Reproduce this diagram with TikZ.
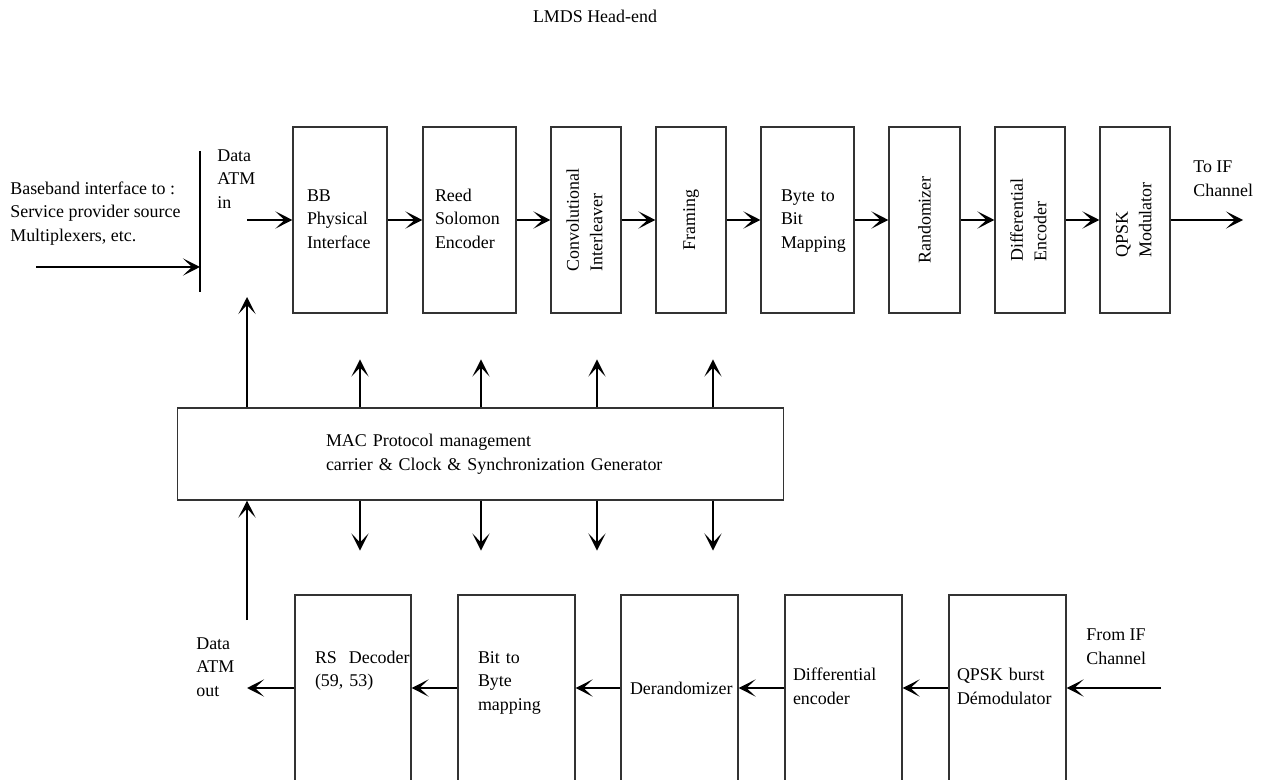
\documentclass[tikz,border=0pt]{standalone}
\usepackage{fontspec}
\setmainfont{Liberation Serif}
\usetikzlibrary{arrows.meta,positioning}
\newcommand{\lns}[1]{\begin{tabular}{@{}l@{}}#1\end{tabular}}

\begin{document}
\begin{tikzpicture}[x=0.02cm, y=-0.02cm, >={Stealth[length=3.4mm,width=3.4mm,inset=1.8mm]},
                    font=\fontsize{10.2}{13.3}\selectfont]
    \tikzstyle{blk} = [draw=black!80, line width=0.6pt, minimum height=3.72cm,
                       inner sep=0pt, align=left]
    \tikzstyle{vblk} = [blk, align=center]
    \tikzstyle{lbl} = [anchor=west, inner sep=0pt]
    \tikzstyle{flow} = [->, line width=1.1pt]

    \useasboundingbox (0,0) rectangle (1265,780);
    \clip (-5,-5) rectangle (1270,779);

    % labels
    \node (title) at (595,16) {LMDS Head-end};
    \node (bbtxt) [lbl] at (10,213) {\lns{Baseband interface to :\\Service provider source\\Multiplexers, etc.}};
    \node (dain) [lbl] at (217,180) {\lns{Data\\ATM\\in}};
    \node (toif) [lbl] at (1193,180) {\lns{To IF\\Channel}};
    \node (fromif) [lbl] at (1086,648) {\lns{From IF\\Channel}};
    \node (daout) [lbl] at (196,668) {\lns{Data\\ATM\\out}};

    % transmit chain
    \node (bb) [blk, minimum width=1.88cm, text width=1.32cm] at (340,220) {\lns{BB\\Physical\\Interface}};
    \node (rse) [blk, minimum width=1.86cm, text width=1.38cm] at (469.5,220) {\lns{Reed\\Solomon\\Encoder}};
    \node (cil) [vblk, minimum width=1.4cm] at (586,220) {\rotatebox{90}{\lns{Convolutional\\Interleaver}}};
    \node (frm) [vblk, minimum width=1.4cm] at (691,220) {\rotatebox{90}{Framing}};
    \node (b2b) [blk, minimum width=1.86cm, text width=1.06cm] at (807.5,220) {\lns{Byte to\\Bit\\Mapping}};
    \node (rnd) [vblk, minimum width=1.42cm] at (924.5,220) {\rotatebox{90}{Randomizer}};
    \node (denc) [vblk, minimum width=1.4cm] at (1030,220) {\rotatebox{90}{\lns{Differential\\Encoder}}};
    \node (qmod) [vblk, minimum width=1.4cm] at (1135,220) {\rotatebox{90}{\lns{QPSK\\Modulator}}};

    % management block
    \node (mac) [blk, minimum width=12.14cm, minimum height=1.84cm, text width=6.18cm] at (480.5,454)
          {\lns{MAC Protocol management\\carrier \& Clock \& Synchronization Generator}};

    % receive chain
    \node (qdem) [blk, minimum width=2.34cm, text width=2.02cm] at (1007.5,688) {\lns{QPSK burst\\D\'emodulator}};
    \node (ddec) [blk, minimum width=2.34cm, text width=2.02cm] at (843.5,688) {\lns{Differential\\encoder}};
    \node (drnd) [blk, minimum width=2.34cm, text width=1.98cm] at (679.5,688) {Derandomizer};
    \node (b2by) [blk, minimum width=2.34cm, text width=1.54cm] at (516.5,688) {\lns{Bit to\\Byte\\mapping\\[0.24cm]}};
    \node (rsd) [blk, minimum width=2.32cm, text width=1.52cm] at (353,688) {\lns{RS\ \ Decoder\\(59, 53)\\[0.7cm]}};

    % free ends
    \coordinate (bartop) at (200,151);
    \coordinate (barbot) at (200,292);
    \coordinate (srcin) at (36,267);
    \coordinate (atmin) at (247,220);
    \coordinate (ifout) at (1243,220);
    \coordinate (ifin) at (1161,688);
    \coordinate (atmout) at (247,688);
    \coordinate (upend) at (247,297);
    \coordinate (dnstart) at (247,620);

    \draw [line width=1.1pt] (bartop) -- (barbot);
    \draw [flow] (srcin) -- (srcin -| bartop);
    \draw [flow] (atmin) -- (bb);
    \draw [flow] (bb) -- (rse);
    \draw [flow] (rse) -- (cil);
    \draw [flow] (cil) -- (frm);
    \draw [flow] (frm) -- (b2b);
    \draw [flow] (b2b) -- (rnd);
    \draw [flow] (rnd) -- (denc);
    \draw [flow] (denc) -- (qmod);
    \draw [flow] (qmod) -- (ifout);

    \draw [flow] (ifin) -- (qdem);
    \draw [flow] (qdem) -- (ddec);
    \draw [flow] (ddec) -- (drnd);
    \draw [flow] (drnd) -- (b2by);
    \draw [flow] (b2by) -- (rsd);
    \draw [flow] (rsd) -- (atmout);

    \draw [flow] (mac.north -| upend) -- (upend);
    \draw [flow] (dnstart) -- (mac.south -| dnstart);
    \foreach \x in {360,481,597,713} {
      \draw [flow] (mac.north -| \x,0) -- ++(0,-48);
      \draw [flow] (mac.south -| \x,0) -- ++(0,50);
    }
\end{tikzpicture}
\end{document}
